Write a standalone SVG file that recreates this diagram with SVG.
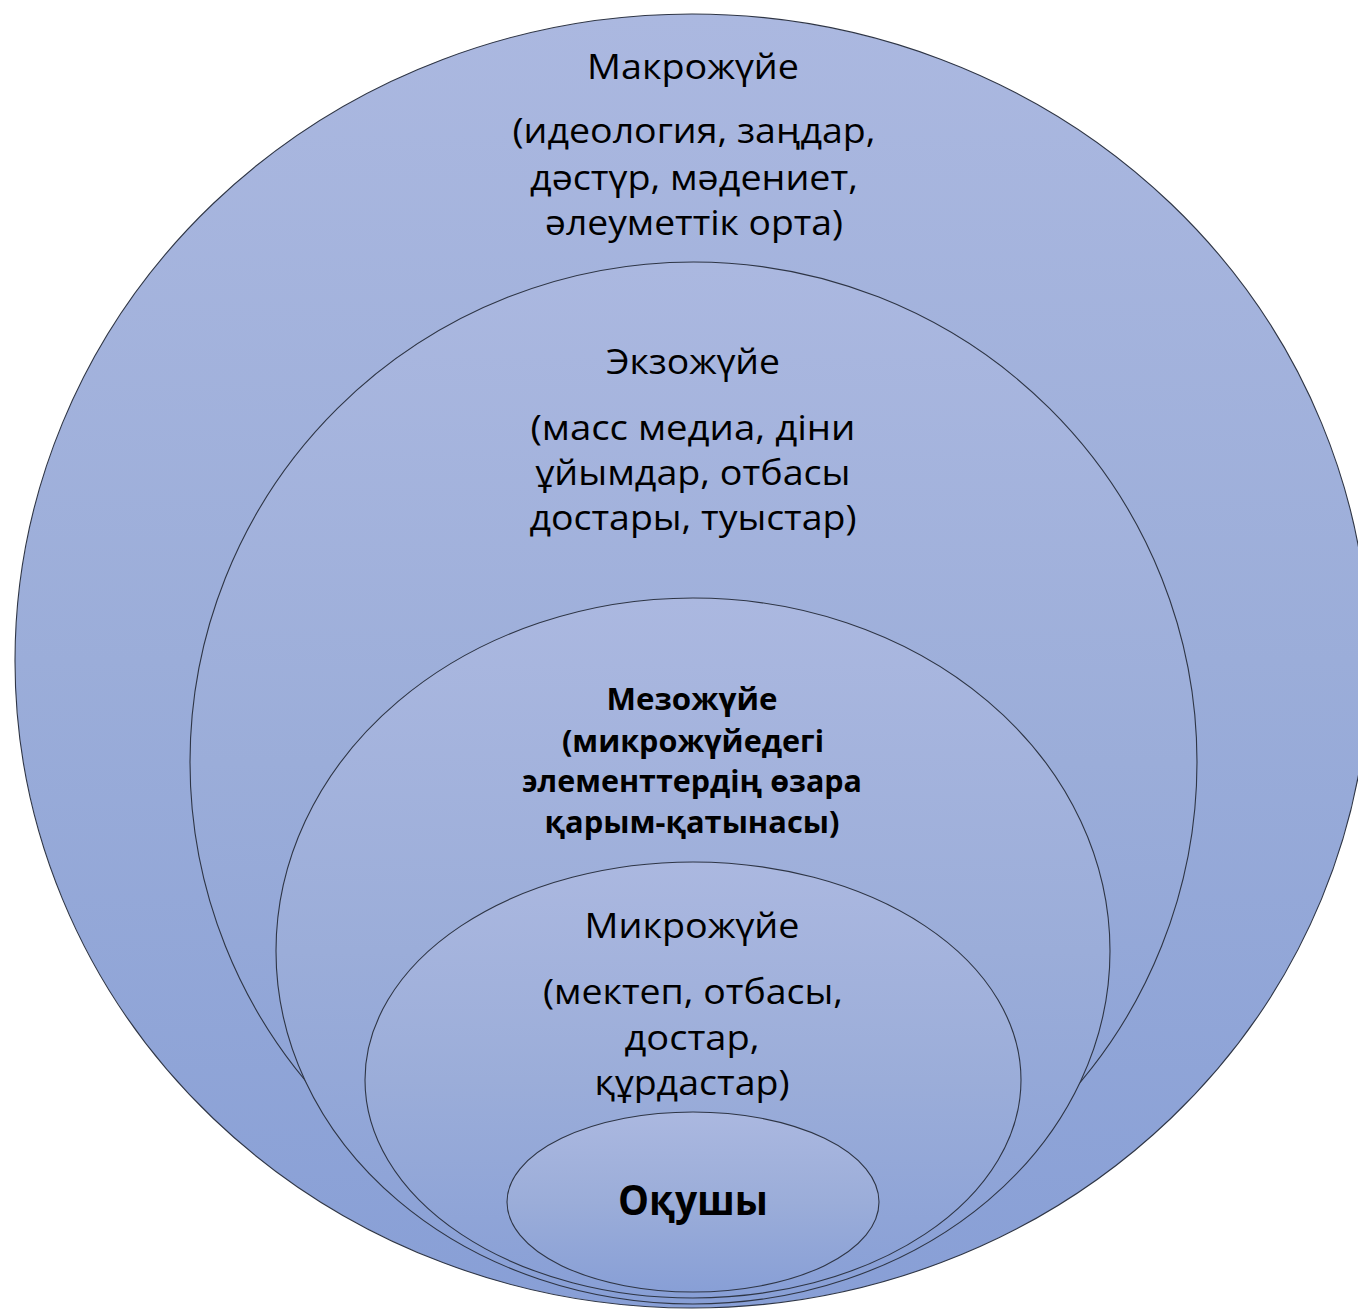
<svg xmlns="http://www.w3.org/2000/svg" width="1358" height="1310" viewBox="0 0 1358 1310">
<defs>
<linearGradient id="g" x1="0" y1="0" x2="0" y2="1">
<stop offset="0" stop-color="#abb8e0"/>
<stop offset="0.5" stop-color="#9badd9"/>
<stop offset="1" stop-color="#889fd6"/>
</linearGradient>
</defs>
<style>
.e{fill:url(#g);stroke:#2e3545;stroke-width:1.1}
.t{font-family:"Open Sans","Noto Sans","Liberation Sans",sans-serif;font-size:35px;fill:#000;text-anchor:middle}
.b{font-family:"Open Sans","Noto Sans","Liberation Sans",sans-serif;font-size:31px;font-weight:bold;fill:#000;text-anchor:middle}
</style>
<rect width="1358" height="1310" fill="#fff"/>
<g id="macro">
<ellipse class="e" cx="692" cy="661" rx="677" ry="647"/>
<text class="t" x="693" y="79" textLength="212" lengthAdjust="spacingAndGlyphs">Макрожүйе</text>
<text class="t" x="694" y="143" textLength="363" lengthAdjust="spacingAndGlyphs">(идеология, заңдар,</text>
<text class="t" x="694" y="190" textLength="328" lengthAdjust="spacingAndGlyphs">дәстүр, мәдениет,</text>
<text class="t" x="694" y="235" textLength="298" lengthAdjust="spacingAndGlyphs">әлеуметтік орта)</text>
</g>
<g id="exo">
<ellipse class="e" cx="693.5" cy="762" rx="503.5" ry="500"/>
<text class="t" x="693" y="374" textLength="174" lengthAdjust="spacingAndGlyphs">Экзожүйе</text>
<text class="t" x="693" y="440" textLength="325" lengthAdjust="spacingAndGlyphs">(масс медиа, діни</text>
<text class="t" x="693" y="485" textLength="315" lengthAdjust="spacingAndGlyphs">ұйымдар, отбасы</text>
<text class="t" x="693" y="530" textLength="327" lengthAdjust="spacingAndGlyphs">достары, туыстар)</text>
</g>
<g id="meso">
<ellipse class="e" cx="693" cy="951" rx="417" ry="353"/>
<text class="b" x="692" y="710" textLength="171" lengthAdjust="spacingAndGlyphs">Мезожүйе</text>
<text class="b" x="693" y="752" textLength="262" lengthAdjust="spacingAndGlyphs">(микрожүйедегі</text>
<text class="b" x="692" y="792" textLength="340" lengthAdjust="spacingAndGlyphs">элементтердің өзара</text>
<text class="b" x="692" y="833" textLength="295" lengthAdjust="spacingAndGlyphs">қарым-қатынасы)</text>
</g>
<g id="micro">
<ellipse class="e" cx="693" cy="1080" rx="328" ry="218"/>
<text class="t" x="692" y="938" textLength="215" lengthAdjust="spacingAndGlyphs">Микрожүйе</text>
<text class="t" x="693" y="1004" textLength="300" lengthAdjust="spacingAndGlyphs">(мектеп, отбасы,</text>
<text class="t" x="692" y="1050" textLength="135" lengthAdjust="spacingAndGlyphs">достар,</text>
<text class="t" x="692" y="1095" textLength="195" lengthAdjust="spacingAndGlyphs">құрдастар)</text>
</g>
<g id="okushy">
<ellipse class="e" cx="693" cy="1202" rx="186" ry="90"/>
<text class="b" x="693" y="1215" style="font-size:42px" textLength="150" lengthAdjust="spacingAndGlyphs">Оқушы</text>
</g>
<g id="connectors"/>
</svg>
